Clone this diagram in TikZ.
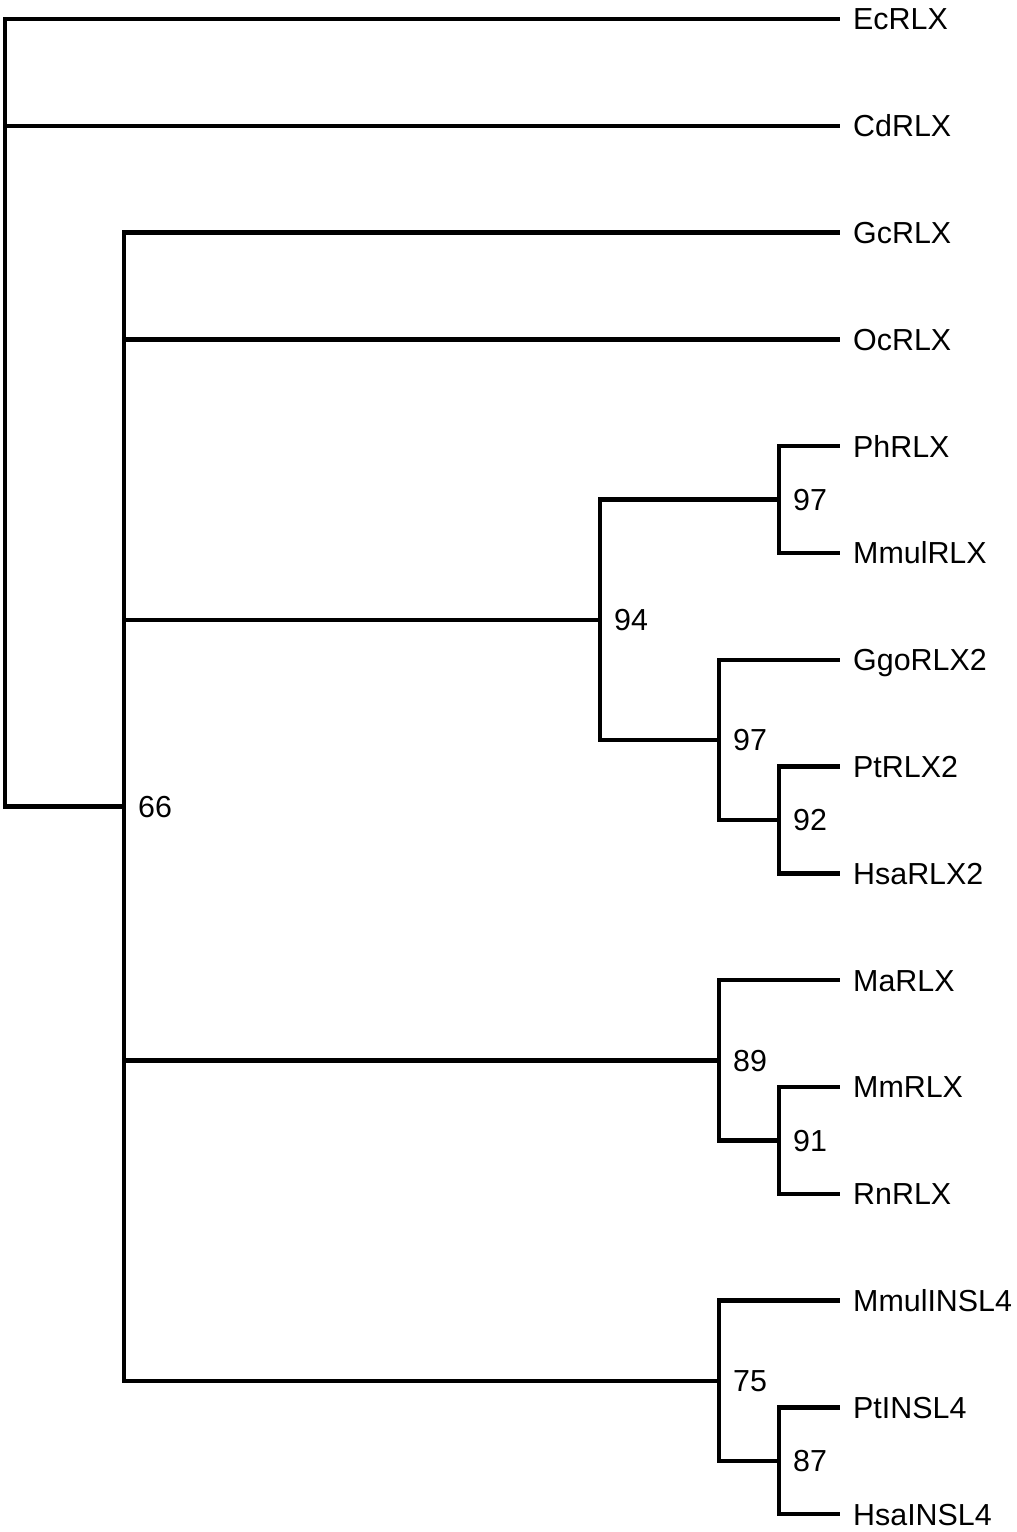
\documentclass[tikz,border=0pt]{standalone}
\usepackage{fontspec}
\setmainfont{Liberation Sans}
\begin{document}
\begin{tikzpicture}[x=1pt,y=-1pt,
  branch/.style={line width=4.4pt,line join=miter,line cap=butt},
  leaflabel/.style={anchor=west,inner sep=0pt,text height=21.8pt,text depth=0pt,font=\fontsize{30.4}{36}\selectfont,xshift=13pt},
  support/.style={anchor=west,inner sep=0pt,text height=21.8pt,text depth=0pt,font=\fontsize{30.4}{36}\selectfont,xshift=14pt}]
\useasboundingbox (0,0) rectangle (1017,1532);
% leaf tips
\coordinate (tEc) at (840,19);
\coordinate (tCd) at (840,125.8);
\coordinate (tGc) at (840,232.6);
\coordinate (tOc) at (840,339.4);
\coordinate (tPh) at (840,446.2);
\coordinate (tMmul) at (840,553);
\coordinate (tGgo) at (840,659.8);
\coordinate (tPt2) at (840,766.6);
\coordinate (tHsa2) at (840,873.4);
\coordinate (tMa) at (840,980.2);
\coordinate (tMm) at (840,1087);
\coordinate (tRn) at (840,1193.8);
\coordinate (tMmulI) at (840,1300.6);
\coordinate (tPtI) at (840,1407.4);
\coordinate (tHsaI) at (840,1514.2);
% internal nodes
\coordinate (root) at (5,400);
\coordinate (n66) at (124,806.65);
\coordinate (n94) at (600,619.75);
\coordinate (n97a) at (779,499.6);
\coordinate (n97b) at (719,739.9);
\coordinate (n92) at (779,820);
\coordinate (n89) at (719,1060.3);
\coordinate (n91) at (779,1140.4);
\coordinate (n75) at (719,1380.7);
\coordinate (n87) at (779,1460.8);
% branches
\draw[branch] (root) |- (tEc);
\draw[branch] (root) |- (tCd);
\draw[branch] (root) |- (n66);
\draw[branch] (n66) |- (tGc);
\draw[branch] (n66) |- (tOc);
\draw[branch] (n66) |- (n94);
\draw[branch] (n66) |- (n89);
\draw[branch] (n66) |- (n75);
\draw[branch] (n94) |- (n97a);
\draw[branch] (n94) |- (n97b);
\draw[branch] (n97a) |- (tPh);
\draw[branch] (n97a) |- (tMmul);
\draw[branch] (n97b) |- (tGgo);
\draw[branch] (n97b) |- (n92);
\draw[branch] (n92) |- (tPt2);
\draw[branch] (n92) |- (tHsa2);
\draw[branch] (n89) |- (tMa);
\draw[branch] (n89) |- (n91);
\draw[branch] (n91) |- (tMm);
\draw[branch] (n91) |- (tRn);
\draw[branch] (n75) |- (tMmulI);
\draw[branch] (n75) |- (n87);
\draw[branch] (n87) |- (tPtI);
\draw[branch] (n87) |- (tHsaI);
% leaf labels
\node[leaflabel] (lEc) at (tEc) {EcRLX};
\node[leaflabel] (lCd) at (tCd) {CdRLX};
\node[leaflabel] (lGc) at (tGc) {GcRLX};
\node[leaflabel] (lOc) at (tOc) {OcRLX};
\node[leaflabel] (lPh) at (tPh) {PhRLX};
\node[leaflabel] (lMmul) at (tMmul) {MmulRLX};
\node[leaflabel] (lGgo) at (tGgo) {GgoRLX2};
\node[leaflabel] (lPt2) at (tPt2) {PtRLX2};
\node[leaflabel] (lHsa2) at (tHsa2) {HsaRLX2};
\node[leaflabel] (lMa) at (tMa) {MaRLX};
\node[leaflabel] (lMm) at (tMm) {MmRLX};
\node[leaflabel] (lRn) at (tRn) {RnRLX};
\node[leaflabel] (lMmulI) at (tMmulI) {MmulINSL4};
\node[leaflabel] (lPtI) at (tPtI) {PtINSL4};
\node[leaflabel] (lHsaI) at (tHsaI) {HsaINSL4};
% support values
\node[support] (s66) at (n66) {66};
\node[support] (s94) at (n94) {94};
\node[support] (s97a) at (n97a) {97};
\node[support] (s97b) at (n97b) {97};
\node[support] (s92) at (n92) {92};
\node[support] (s89) at (n89) {89};
\node[support] (s91) at (n91) {91};
\node[support] (s75) at (n75) {75};
\node[support] (s87) at (n87) {87};
\end{tikzpicture}
\end{document}
